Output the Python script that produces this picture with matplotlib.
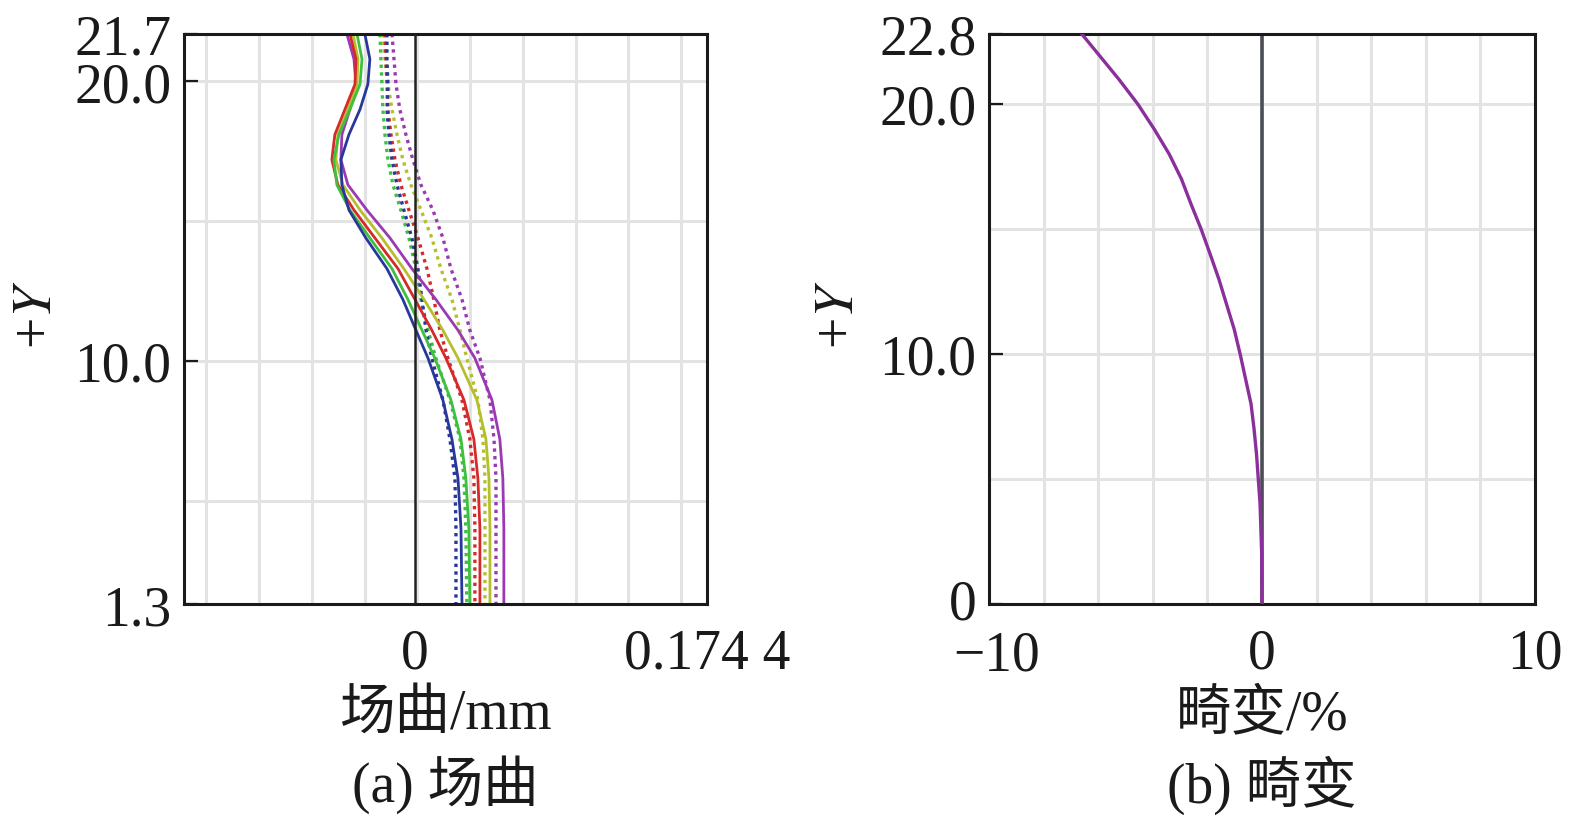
import numpy as np
import matplotlib
matplotlib.use("Agg")
import matplotlib.pyplot as plt
import matplotlib.transforms as mtransforms

plt.rcParams['font.family'] = ['Liberation Serif', 'Noto Sans CJK SC']
plt.rcParams['mathtext.fontset'] = 'stix'
plt.rcParams['axes.unicode_minus'] = True

# field heights (+Y) for the field curvature curves, top to bottom
fieldY = [21.7, 20.8, 19.9, 19.0, 18.1, 17.2, 16.3, 15.4, 14.4, 13.3,
          12.2, 11.1, 10.1, 8.6, 7.2, 5.8, 4.0, 1.3]

# solid curves (tangential), mm
blueT = [-0.0299, -0.0269, -0.0281, -0.0328, -0.0394, -0.0442, -0.0436, -0.0394, -0.0293,
         -0.0167, -0.0072, 0.0006, 0.0078, 0.0167, 0.0221, 0.0257, 0.0275, 0.0281]
greenT = [-0.0346, -0.0316, -0.0328, -0.0388, -0.0454, -0.0484, -0.0466, -0.0388, -0.0269,
          -0.0137, -0.0042, 0.0042, 0.0119, 0.0215, 0.0275, 0.0304, 0.0322, 0.0328]
redT = [-0.0388, -0.0352, -0.0358, -0.0418, -0.0478, -0.0496, -0.0460, -0.0364, -0.0239,
        -0.0101, 0.0000, 0.0101, 0.0185, 0.0293, 0.0352, 0.0376, 0.0388, 0.0388]
yellowT = [-0.0370, -0.0340, -0.0346, -0.0400, -0.0460, -0.0472, -0.0430, -0.0328, -0.0197,
           -0.0066, 0.0054, 0.0167, 0.0257, 0.0370, 0.0424, 0.0442, 0.0448, 0.0448]
purpleT = [-0.0406, -0.0364, -0.0352, -0.0388, -0.0436, -0.0442, -0.0400, -0.0287, -0.0149,
           -0.0018, 0.0125, 0.0257, 0.0358, 0.0460, 0.0507, 0.0525, 0.0531, 0.0531]

# dotted curves (sagittal), mm
blueS = [-0.0167, -0.0167, -0.0161, -0.0167, -0.0155, -0.0137, -0.0107, -0.0066, -0.0018,
         0.0018, 0.0042, 0.0066, 0.0101, 0.0167, 0.0209, 0.0239, 0.0245, 0.0245]
greenS = [-0.0209, -0.0203, -0.0197, -0.0191, -0.0179, -0.0161, -0.0131, -0.0084, -0.0036,
          0.0006, 0.0036, 0.0078, 0.0125, 0.0209, 0.0269, 0.0293, 0.0304, 0.0310]
redS = [-0.0179, -0.0173, -0.0167, -0.0161, -0.0143, -0.0119, -0.0084, -0.0036, 0.0018,
        0.0072, 0.0113, 0.0149, 0.0197, 0.0281, 0.0328, 0.0352, 0.0358, 0.0358]
yellowS = [-0.0191, -0.0179, -0.0161, -0.0137, -0.0107, -0.0072, -0.0024, 0.0036, 0.0101,
           0.0155, 0.0221, 0.0269, 0.0310, 0.0376, 0.0406, 0.0418, 0.0418, 0.0418]
purpleS = [-0.0137, -0.0125, -0.0113, -0.0090, -0.0054, -0.0012, 0.0036, 0.0107, 0.0167,
           0.0215, 0.0281, 0.0328, 0.0388, 0.0448, 0.0472, 0.0484, 0.0484, 0.0484]

# distortion, %
distY = [0, 2, 4, 6, 7, 8, 9, 10, 11, 12, 13, 14, 15, 16, 17, 18, 19, 20, 21, 22, 22.8]
distX = [0, -0.01, -0.07, -0.2, -0.29, -0.4, -0.6, -0.8, -1.02, -1.3, -1.58, -1.9,
         -2.23, -2.6, -2.95, -3.4, -3.95, -4.55, -5.25, -6.0, -6.6]

leftYTicks = [1.3, 10.0, 20.0, 21.7]
leftYLabels = ['1.3', '10.0', '20.0', '21.7']
leftXTicks = [0, 0.1744]
leftXLabels = ['0', '0.174 4']
rightYTicks = [0, 10, 20, 22.8]
rightYLabels = ['0', '10.0', '20.0', '22.8']
rightXTicks = [-10, 0, 10]
rightXLabels = ['\u221210', '0', '10']

colours = {'blue': '#27389a', 'green': '#3fbf3f', 'red': '#d62a2a',
           'yellow': '#b5bf2e', 'purple': '#9b39b3'}
solid = {'blue': blueT, 'green': greenT, 'red': redT, 'yellow': yellowT, 'purple': purpleT}
dotted = {'blue': blueS, 'green': greenS, 'red': redS, 'yellow': yellowS, 'purple': purpleS}

fs = 40
textColour = '#1a1a1a'
gridColour = '#e3e3e3'

fig = plt.figure(figsize=(15.75, 8.29), dpi=100)
axA = fig.add_axes([0.1168, 0.2702, 0.3321, 0.6876])
axB = fig.add_axes([0.6279, 0.2702, 0.3467, 0.6876])

# (a) field curvature
gridStep = 0.0315
for k in range(-4, 6):
    axA.axvline(k * gridStep + 0.0015, color=gridColour, lw=2.2, zorder=0)
for yy in [5, 10, 15, 20]:
    axA.axhline(yy, color=gridColour, lw=2.2, zorder=0)

for name in ['purple', 'yellow', 'red', 'green', 'blue']:
    axA.plot(dotted[name], fieldY, color=colours[name], lw=2.4,
             linestyle=(0, (1, 1.3)), zorder=2)
for name in ['purple', 'yellow', 'red', 'green', 'blue']:
    axA.plot(solid[name], fieldY, color=colours[name], lw=2.0,
             solid_joinstyle='round', zorder=2)
axA.axvline(0, color='#222222', lw=1.8, zorder=3)

axA.set_xlim(-0.1379, 0.1744)
axA.set_ylim(1.3, 21.7)
axA.set_xticks(leftXTicks)
axA.set_xticklabels(leftXLabels)
axA.set_yticks(leftYTicks)
axA.set_yticklabels(leftYLabels)

# (b) distortion
for k in range(-4, 5):
    axB.axvline(k * 2, color=gridColour, lw=2.2, zorder=0)
for yy in [5, 10, 15, 20]:
    axB.axhline(yy, color=gridColour, lw=2.2, zorder=0)
axB.axvline(0, color='#4b4e54', lw=2.6, zorder=2)
axB.plot(distX, distY, color='#8a2f9c', lw=2.4, solid_joinstyle='round', zorder=3)

axB.set_xlim(-10, 10)
axB.set_ylim(0, 22.8)
axB.set_xticks(rightXTicks)
axB.set_xticklabels(rightXLabels)
axB.set_yticks(rightYTicks)
axB.set_yticklabels(rightYLabels)

for ax in [axA, axB]:
    for sp in ax.spines.values():
        sp.set_linewidth(2.2)
        sp.set_color(textColour)
    ax.tick_params(axis='y', direction='in', length=10, width=1.6,
                   labelsize=fs, pad=9, colors=textColour)
    ax.tick_params(axis='x', direction='in', length=0, width=1.6,
                   labelsize=fs, pad=17, colors=textColour)

# the "0" of the right y axis and the "-10" below it sit very close in the original;
# nudge them apart a little so they do not collide
lab0 = axB.get_yticklabels()[0]
lab0.set_transform(lab0.get_transform() + mtransforms.ScaledTranslation(0, 6 / 100, fig.dpi_scale_trans))
labm10 = axB.get_xticklabels()[0]
labm10.set_transform(labm10.get_transform() + mtransforms.ScaledTranslation(8 / 100, -2 / 100, fig.dpi_scale_trans))

fig.text(0.0235, 0.62, r'+$\mathit{Y}$', rotation=90, fontsize=fs,
         ha='center', va='center', color=textColour)
fig.text(0.533, 0.62, r'+$\mathit{Y}$', rotation=90, fontsize=fs,
         ha='center', va='center', color=textColour)

fig.text(0.2829, 0.1375, '场曲/mm', fontsize=fs, ha='center', va='center', color=textColour)
fig.text(0.2829, 0.0531, '(a) 场曲', fontsize=fs, ha='center', va='center', color=textColour)
fig.text(0.8012, 0.1375, '畸变/%', fontsize=fs, ha='center', va='center', color=textColour)
fig.text(0.8012, 0.0531, '(b) 畸变', fontsize=fs, ha='center', va='center', color=textColour)

fig.savefig('out.png', dpi=100)
